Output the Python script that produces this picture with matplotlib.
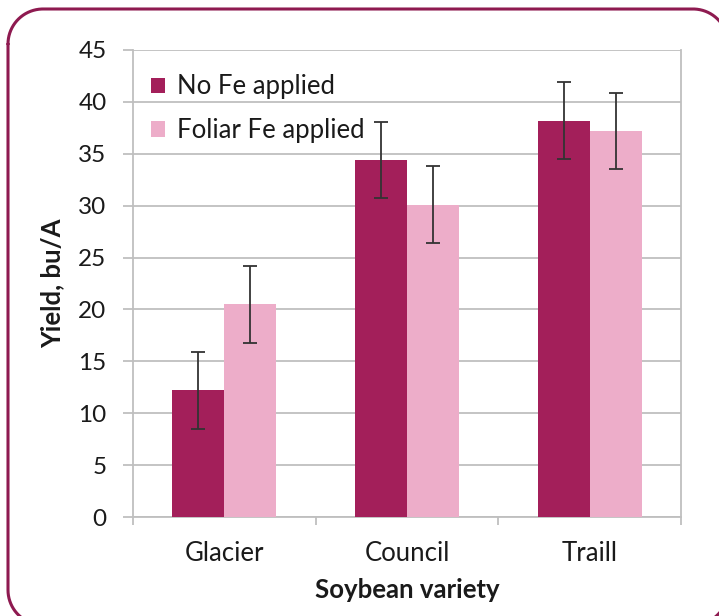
import matplotlib
matplotlib.use("Agg")
import matplotlib.pyplot as plt
import numpy as np

plt.rcParams['font.family'] = ['Lato', 'DejaVu Sans']

categories = ["Glacier", "Council", "Traill"]
series_names = ["No Fe applied", "Foliar Fe applied"]
no_fe = [12.2, 34.4, 38.2]
foliar_fe = [20.5, 30.1, 37.2]
no_fe_err = [3.7, 3.7, 3.7]
foliar_fe_err = [3.7, 3.7, 3.7]
yticks = [0, 5, 10, 15, 20, 25, 30, 35, 40, 45]

c_dark = "#A31F5A"
c_light = "#EDADC9"
grid_c = "#BFBFBF"

W, H = 719, 616
fig = plt.figure(figsize=(W/100, H/100), dpi=100)

# background axes in pixel coordinates for the rounded frame
bg = fig.add_axes([0, 0, 1, 1], zorder=-10)
bg.set_xlim(0, W)
bg.set_ylim(H, 0)
bg.axis("off")
L, T, R, B, r = 8.0, 9.0, 728.0, 625.0, 35.0
def arc(cx, cy, a0, a1):
    t = np.radians(np.linspace(a0, a1, 40))
    return cx + r*np.cos(t), cy + r*np.sin(t)
xs, ys = [], []
for cx, cy, a0, a1 in [(L + r, T + r, 180, 270), (R - r, T + r, 270, 360),
                       (R - r, B - r, 0, 90), (L + r, B - r, 90, 180)]:
    ax_, ay_ = arc(cx, cy, a0, a1)
    xs.extend(ax_); ys.extend(ay_)
xs.append(xs[0]); ys.append(ys[0])
bg.plot(xs, ys, color="#8E1A50", linewidth=2.2, solid_capstyle="round")

ax = fig.add_axes([133/W, 1-517/H, (681-133)/W, (517-50)/H])

x = np.arange(len(categories))
w = 0.285
ekw = dict(ecolor="#333333", elinewidth=1.3, capsize=5, capthick=1.3, zorder=4)
ax.bar(x - w/2, no_fe, w, color=c_dark, label=series_names[0], zorder=3,
       yerr=no_fe_err, error_kw=ekw)
ax.bar(x + w/2, foliar_fe, w, color=c_light, label=series_names[1], zorder=3,
       yerr=foliar_fe_err, error_kw=ekw)

ax.set_xlim(-0.5, len(categories) - 0.5)
ax.set_ylim(0, 45)
ax.set_yticks(yticks)
ax.set_xticks(x)
ax.set_xticklabels(categories)
ax.set_xticks(np.arange(-0.5, len(categories)), minor=True)
ax.tick_params(axis='x', which='major', length=0, pad=17, labelsize=18.5, colors="#1a1a1a")
ax.tick_params(axis='x', which='minor', length=6, width=1.3, color=grid_c)
ax.tick_params(axis='y', length=7, width=1.3, color=grid_c, pad=12, labelsize=17.5, labelcolor="#1a1a1a")

ax.yaxis.grid(True, color=grid_c, linewidth=1.3, zorder=0)
ax.set_axisbelow(True)
ax.spines["top"].set_visible(False)
for s in ["left", "right", "bottom"]:
    ax.spines[s].set_color(grid_c)
    ax.spines[s].set_linewidth(1.3)

ax.set_ylabel("Yield, bu/A", fontsize=18.5, fontweight="bold", labelpad=10, color="#1a1a1a")
ax.set_xlabel("Soybean variety", fontsize=18.5, fontweight="bold", labelpad=9, color="#1a1a1a")

leg = ax.legend(loc="upper left", bbox_to_anchor=(-0.012, 1.0), frameon=False, fontsize=18.5,
                handlelength=0.55, handleheight=0.55, handletextpad=0.45, labelspacing=0.72,
                borderaxespad=0.55)
for t in leg.get_texts():
    t.set_color("#1a1a1a")

fig.savefig("out.png", dpi=100)
